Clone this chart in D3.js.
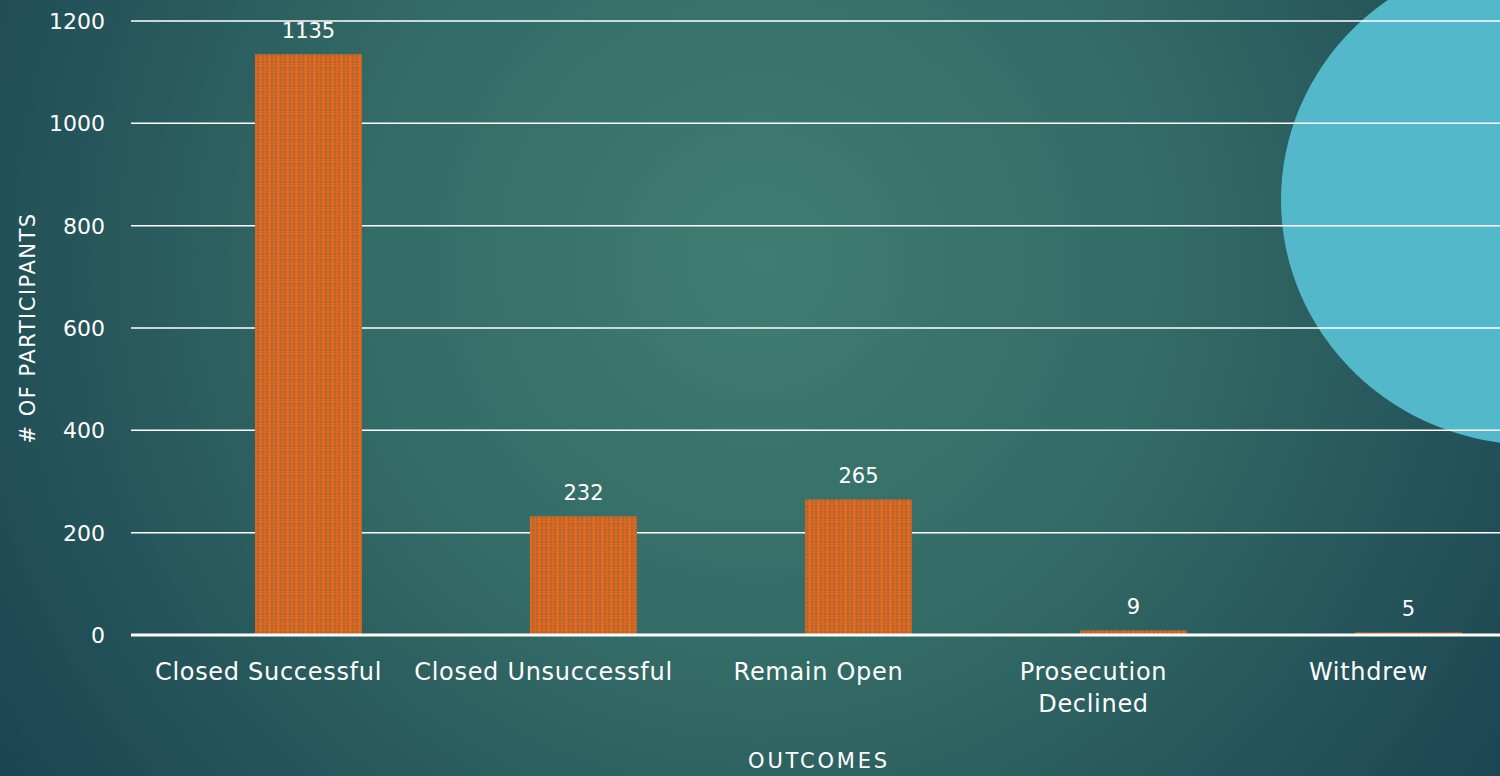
<!DOCTYPE html>
<html><head><meta charset="utf-8">
<script src="https://cdn.jsdelivr.net/npm/d3@7"></script>
<style>
html,body{margin:0;padding:0;overflow:hidden;background:#24545a;}
svg{display:block;}
text{font-family:"DejaVu Sans",sans-serif;fill:#ffffff;}
</style></head>
<body>
<svg id="chart" width="1500" height="776"></svg>
<script>
const categories = ["Closed Successful","Closed Unsuccessful","Remain Open","Prosecution Declined","Withdrew"];
const categoryLines = [["Closed Successful"],["Closed Unsuccessful"],["Remain Open"],["Prosecution","Declined"],["Withdrew"]];
const values = [1135, 232, 265, 9, 5];
const yTicks = [0, 200, 400, 600, 800, 1000, 1200];
const yTitle = "# OF PARTICIPANTS";
const xTitle = "OUTCOMES";

const W = 1500, H = 776;
const m = {left:131, right:-6, top:21, bottom:141};
const svg = d3.select("#chart");
const defs = svg.append("defs");

// background radial gradient
const rg = defs.append("radialGradient").attr("id","bg")
  .attr("gradientUnits","userSpaceOnUse").attr("cx",760).attr("cy",260).attr("r",900);
rg.append("stop").attr("offset","0").attr("stop-color","#3f7d72");
rg.append("stop").attr("offset","0.45").attr("stop-color","#336b66");
rg.append("stop").attr("offset","1").attr("stop-color","#1b4552");
svg.append("rect").attr("width",W).attr("height",H).attr("fill","url(#bg)");

// decorative ellipse
svg.append("ellipse").attr("cx",1534).attr("cy",200).attr("rx",253).attr("ry",245).attr("fill","#53b8ca");

// bar pattern
const pat = defs.append("pattern").attr("id","barpat").attr("patternUnits","userSpaceOnUse")
  .attr("x",0).attr("y",0).attr("width",9).attr("height",6);
pat.append("rect").attr("width",9).attr("height",6).attr("fill","#dc661e");
pat.append("rect").attr("x",1).attr("y",1).attr("width",2).attr("height",2).attr("fill","#8f6b48");
pat.append("rect").attr("x",5).attr("y",1).attr("width",2).attr("height",2).attr("fill","#8f6b48");
pat.append("rect").attr("x",1).attr("y",4).attr("width",2).attr("height",1).attr("fill","#9c6b44");
pat.append("rect").attr("x",5).attr("y",4).attr("width",2).attr("height",1).attr("fill","#9c6b44");
pat.append("rect").attr("x",8).attr("y",0).attr("width",1).attr("height",6).attr("fill","#f06a14");

const x = d3.scaleBand().domain(categories).range([m.left, W - m.right]).paddingInner(0).paddingOuter(0);
const y = d3.scaleLinear().domain([0, 1200]).range([H - m.bottom, m.top]);
// bars sit right of the category centre (offset inside each band)
const barOffset = 0.451, barWidthFrac = 0.389;
const bx = i => x(categories[i]) + x.bandwidth() * barOffset;
const bw = x.bandwidth() * barWidthFrac;

// gridlines
svg.append("g").selectAll("line").data(yTicks.filter(d=>d>0)).join("line")
  .attr("x1",m.left).attr("x2",W)
  .attr("y1",d=>y(d)).attr("y2",d=>y(d))
  .attr("stroke","#ffffff").attr("stroke-width",1.5);

// y tick labels
svg.append("g").selectAll("text").data(yTicks).join("text")
  .attr("x",105).attr("y",d=>y(d)).attr("dy","0.36em")
  .attr("text-anchor","end").attr("font-size",22).text(d=>d);

// bars
svg.append("g").selectAll("rect").data(values.map((v,i)=>({v,i}))).join("rect")
  .attr("x",d=>bx(d.i)).attr("width",bw)
  .attr("y",d=>y(d.v)).attr("height",d=>y(0)-y(d.v))
  .attr("fill","url(#barpat)");

// baseline
svg.append("line").attr("x1",m.left).attr("x2",W).attr("y1",y(0)).attr("y2",y(0))
  .attr("stroke","#ffffff").attr("stroke-width",3);

// data labels
svg.append("g").selectAll("text").data(values.map((v,i)=>({v,i}))).join("text")
  .attr("x",d=>bx(d.i)+bw/2).attr("y",d=>y(d.v)-16)
  .attr("text-anchor","middle").attr("font-size",21).text(d=>d.v);

// category labels
const cl = svg.append("g").selectAll("text").data(categoryLines).join("text")
  .attr("text-anchor","middle").attr("font-size",24).attr("letter-spacing",0.7);
cl.each(function(lines,i){
  const t = d3.select(this);
  lines.forEach((ln,j)=>{
    t.append("tspan").attr("x",x(categories[i])+x.bandwidth()/2).attr("y",680+j*32).text(ln);
  });
});

// axis titles
svg.append("text").attr("x",819).attr("y",768).attr("text-anchor","middle").attr("font-size",21).attr("letter-spacing",2.8).text(xTitle);
svg.append("text").attr("transform","translate(35,328) rotate(-90)").attr("text-anchor","middle").attr("font-size",21).attr("letter-spacing",1.5).text(yTitle);
</script>
</body></html>
